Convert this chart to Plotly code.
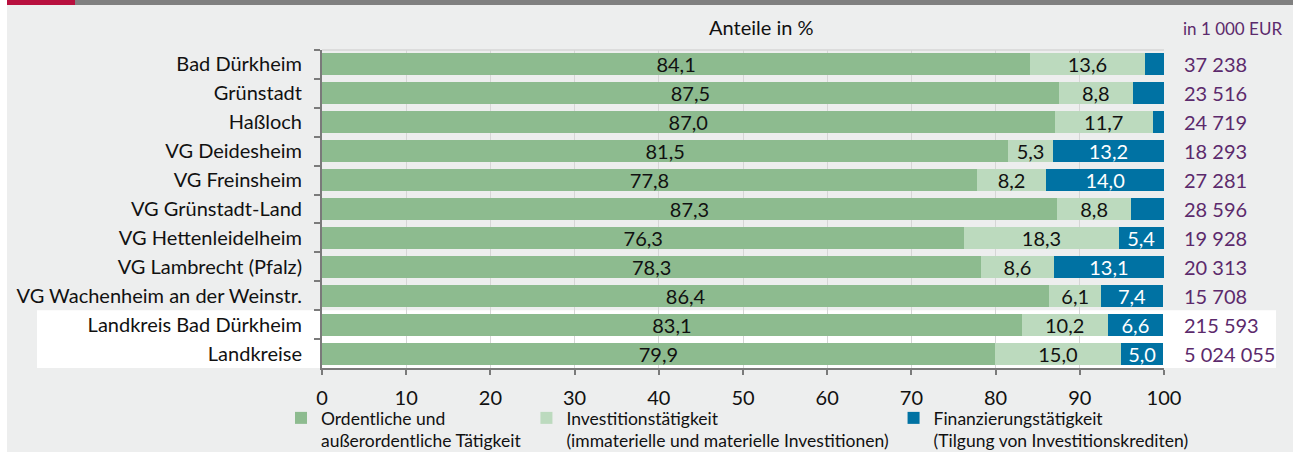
import plotly.graph_objects as go

categories = ["Bad Dürkheim", "Grünstadt", "Haßloch", "VG Deidesheim", "VG Freinsheim",
              "VG Grünstadt-Land", "VG Hettenleidelheim", "VG Lambrecht (Pfalz)",
              "VG Wachenheim an der Weinstr.", "Landkreis Bad Dürkheim", "Landkreise"]
ordentlich = [84.1, 87.5, 87.0, 81.5, 77.8, 87.3, 76.3, 78.3, 86.4, 83.1, 79.9]
investition = [13.6, 8.8, 11.7, 5.3, 8.2, 8.8, 18.3, 8.6, 6.1, 10.2, 15.0]
finanzierung = [2.3, 3.7, 1.3, 13.2, 14.0, 3.9, 5.4, 13.1, 7.4, 6.6, 5.0]
totals = [37238, 23516, 24719, 18293, 27281, 28596, 19928, 20313, 15708, 215593, 5024055]
series_names = ["Ordentliche und<br>außerordentliche Tätigkeit",
                "Investitionstätigkeit<br>(immaterielle und materielle Investitionen)",
                "Finanzierungstätigkeit<br>(Tilgung von Investitionskrediten)"]
colors = ["#8dbb8f", "#bcdabe", "#0072a3"]
text_colors = ["#111111", "#111111", "#ffffff"]

FONT = "Lato"
FS = 20
W, H = 1293, 452
L, R, T, B = 322, 1164, 50, 368


def px_x(px):
    return (px - L) / (R - L)


def px_y(py):
    return (B - py) / (B - T)


def fmt(v):
    return f"{v:.1f}".replace(".", ",")


fig = go.Figure()
for vals, name, col, tc in zip([ordentlich, investition, finanzierung], series_names, colors, text_colors):
    labels = [fmt(v) if v >= 5 else "" for v in vals]
    fig.add_trace(go.Bar(
        y=categories, x=vals, name=name, orientation="h",
        marker=dict(color=col, line=dict(width=0)),
        text=labels, textposition="inside", insidetextanchor="middle",
        textangle=0, constraintext="none",
        textfont=dict(family=FONT, size=FS, color=tc),
        hoverinfo="skip",
    ))

for cat, tot in zip(categories, totals):
    fig.add_annotation(x=px_x(1182), xref="paper", y=cat, yref="y",
                       text=f"{tot:,}".replace(",", " "), showarrow=False,
                       xanchor="left", yanchor="middle",
                       font=dict(family=FONT, size=FS, color="#5c2a6c"))

fig.add_annotation(x=px_x(761), xref="paper", y=px_y(27), yref="paper", text="Anteile in %",
                   showarrow=False, xanchor="center", yanchor="middle",
                   font=dict(family=FONT, size=FS, color="#111111"))
fig.add_annotation(x=px_x(1284), xref="paper", y=px_y(28), yref="paper", text="in 1 000 EUR",
                   showarrow=False, xanchor="right", yanchor="middle",
                   font=dict(family=FONT, size=17, color="#5c2a6c"))

shapes = [
    dict(type="rect", xref="paper", yref="paper", x0=px_x(7), x1=px_x(W), y0=px_y(H), y1=px_y(0),
         fillcolor="#edeeee", line=dict(width=0), layer="below"),
    dict(type="rect", xref="paper", yref="paper", x0=px_x(7), x1=px_x(W), y0=px_y(5), y1=px_y(0),
         fillcolor="#808080", line=dict(width=0), layer="below"),
    dict(type="rect", xref="paper", yref="paper", x0=px_x(7), x1=px_x(75), y0=px_y(5), y1=px_y(0),
         fillcolor="#b8103e", line=dict(width=0), layer="below"),
    dict(type="rect", xref="paper", yref="y", x0=px_x(37), x1=px_x(1276), y0=8.5, y1=10.5,
         fillcolor="#ffffff", line=dict(width=0), layer="below"),
    dict(type="line", xref="paper", yref="paper", x0=0, x1=1, y0=1, y1=1,
         line=dict(color="#d6d6d6", width=1.5), layer="below"),
]

fig.update_layout(
    width=W, height=H,
    margin=dict(l=L, r=W - R, t=T, b=H - B, autoexpand=False),
    paper_bgcolor="#ffffff", plot_bgcolor="rgba(0,0,0,0)",
    barmode="stack", bargap=0.24,
    separators=", ",
    font=dict(family=FONT, size=FS, color="#111111"),
    shapes=shapes,
    showlegend=True,
    legend=dict(orientation="h", x=px_x(281), xanchor="left", y=px_y(400), yanchor="top",
                valign="top", font=dict(family=FONT, size=17.5, color="#111111"),
                bgcolor="rgba(0,0,0,0)", traceorder="normal", itemwidth=30),
)
fig.update_xaxes(range=[0, 100], dtick=10, tick0=0, showgrid=True, gridcolor="#d6d6d6", gridwidth=1,
                 showline=True, linecolor="#7a7a7a", linewidth=2, ticks="outside", ticklen=5,
                 tickcolor="#7a7a7a", tickwidth=1.5, zeroline=False, ticklabelstandoff=6,
                 tickfont=dict(family=FONT, size=FS, color="#111111"), fixedrange=True)
fig.update_yaxes(autorange="reversed", showgrid=False, showline=True, linecolor="#7a7a7a", linewidth=2,
                 ticks="outside", tickson="boundaries", ticklen=6, tickcolor="#7a7a7a", tickwidth=1.5,
                 tickfont=dict(family=FONT, size=FS, color="#111111"), ticklabelstandoff=14,
                 fixedrange=True)

fig.write_html("out.html", config={"displayModeBar": False},
               post_script="document.body.style.margin='0';")
